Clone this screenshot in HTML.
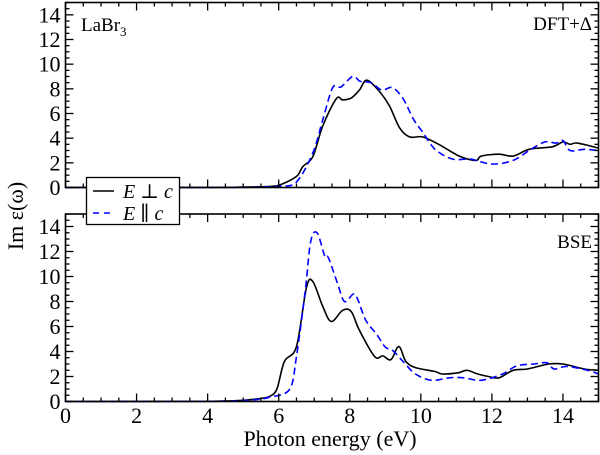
<!DOCTYPE html>
<html><head><meta charset="utf-8"><style>
html,body{margin:0;padding:0;background:#fff;}
body{position:relative;width:600px;height:455px;overflow:hidden;}
svg{display:block;}
svg text{font-family:"Liberation Serif","DejaVu Serif","Times New Roman",serif;}
</style></head><body>
<svg id="chart" width="600" height="455" viewBox="0 0 600 455"></svg>
<script>
const xTicks=[0,2,4,6,8,10,12,14];
const yTicks=[0,2,4,6,8,10,12,14];
const topPerpX=[0,4,5,5.5,5.8,6.03,6.5,6.68,6.96,7.24,7.62,7.8,8.04,8.27,8.48,8.83,9.12,9.4,9.68,10.05,10.5,11.08,11.55,11.7,12.2,12.6,13.05,13.7,14,14.2,14.4,15];
const topPerpY=[0,0.01,0.03,0.06,0.1,0.2,0.9,1.7,2.5,5.0,7.2,7.1,7.25,7.9,8.7,7.8,6.6,4.85,4.1,4.1,3.5,2.55,2.2,2.55,2.7,2.55,3.1,3.3,3.7,3.5,3.6,3.2];
const topParX=[0,4,5,5.5,6.03,6.5,6.96,7.24,7.52,7.75,8.08,8.3,8.6,8.9,9.2,9.5,9.8,10.05,10.4,10.9,11.4,12,12.6,13.1,13.5,13.8,14,14.2,14.6,15];
const topParY=[0,0.01,0.02,0.04,0.1,0.45,2.8,5.5,8.1,8.15,9.0,8.6,8.5,7.9,8.1,7.2,5.5,4.5,3.1,2.3,2.3,1.9,2.2,3.1,3.7,3.6,3.8,3.0,3.1,3.0];
const botPerpX=[0,4,5,5.5,5.74,5.95,6.16,6.5,6.78,6.96,7.24,7.48,7.8,8.04,8.27,8.7,8.93,9.16,9.38,9.58,9.86,10.4,10.6,11.05,11.3,11.6,11.9,12.2,12.6,13.0,13.6,14.0,14.6,15];
const botPerpY=[0,0.02,0.1,0.25,0.4,1.0,3.2,4.4,9.1,9.6,7.6,6.4,7.3,7.2,5.7,3.6,3.65,3.35,4.4,3.2,2.7,2.4,2.2,2.3,2.5,2.2,2.0,1.9,2.5,2.6,3.0,3.0,2.6,2.5];
const botParX=[0,4,5,5.5,5.74,6.3,6.5,6.75,6.9,7.08,7.3,7.4,7.65,7.85,8.1,8.22,8.45,8.75,9.0,9.2,9.5,9.85,10.3,10.8,11.2,11.7,12.3,12.7,13.2,13.55,13.75,14.1,14.7,15];
const botParY=[0,0.02,0.08,0.2,0.35,0.95,3.6,8.95,12.8,13.5,11.6,11.5,9.5,8.0,8.6,8.2,6.5,5.4,4.35,4.1,3.2,2.2,1.7,1.9,1.9,1.7,2.2,2.85,3.0,3.1,2.6,2.8,2.5,2.2];

const svg=document.getElementById('chart');
const NS='http://www.w3.org/2000/svg';
function mk(tag,attrs,parent){const e=document.createElementNS(NS,tag);for(const k in attrs)e.setAttribute(k,attrs[k]);(parent||svg).appendChild(e);return e;}
const X0=65.5,X1=598.5;
const xs=v=>X0+(v/15)*(X1-X0);
function smooth(pts){
 let d='M'+pts[0][0].toFixed(1)+','+pts[0][1].toFixed(1);
 for(let i=0;i<pts.length-1;i++){
  const p0=pts[Math.max(0,i-1)],p1=pts[i],p2=pts[i+1],p3=pts[Math.min(pts.length-1,i+2)];
  const c1x=p1[0]+(p2[0]-p0[0])/6,c1y=p1[1]+(p2[1]-p0[1])/6;
  const c2x=p2[0]-(p3[0]-p1[0])/6,c2y=p2[1]-(p3[1]-p1[1])/6;
  d+=' C'+c1x.toFixed(1)+','+c1y.toFixed(1)+' '+c2x.toFixed(1)+','+c2y.toFixed(1)+' '+p2[0].toFixed(1)+','+p2[1].toFixed(1);
 }
 return d;
}
const panels=[
 {name:'top',y0:187.5,y1:2.5,label:'DFT+Δ',series:[[topPerpX,topPerpY,'perp'],[topParX,topParY,'par']]},
 {name:'bottom',y0:401.5,y1:214,label:'BSE',series:[[botPerpX,botPerpY,'perp'],[botParX,botParY,'par']]}
];
panels.forEach(p=>{
 const ys=v=>p.y0-(v/15)*(p.y0-p.y1);
 const g=mk('g',{});
 
 
 p.series.forEach(s=>{
  const pts=s[0].map((x,i)=>[xs(x),ys(s[1][i])]);
  const path=mk('path',{d:smooth(pts),fill:'none',stroke:s[2]==='perp'?'#000':'#0000ff','stroke-width':1.6,'stroke-dasharray':s[2]==='perp'?'none':'7,4','stroke-linejoin':'round'},g);
  
  
 });
 const fr=mk('rect',{x:X0,y:p.y1,width:X1-X0,height:p.y0-p.y1,fill:'none',stroke:'#000','stroke-width':1.6},g);
 
 
 for(let v=0;v<=15.001;v+=0.5){
  const maj=Math.abs(v/2-Math.round(v/2))<1e-6;const L=maj?8:4;const x=xs(v);
  mk('line',{x1:x,x2:x,y1:p.y0,y2:p.y0-L,stroke:'#000','stroke-width':1.3},g);
  mk('line',{x1:x,x2:x,y1:p.y1,y2:p.y1+L,stroke:'#000','stroke-width':1.3},g);
 }
 for(let v=0;v<=15.001;v+=0.5){
  const maj=Math.abs(v/2-Math.round(v/2))<1e-6;const L=maj?8:4;const y=ys(v);
  mk('line',{x1:X0,x2:X0+L,y1:y,y2:y,stroke:'#000','stroke-width':1.3},g);
  mk('line',{x1:X1,x2:X1-L,y1:y,y2:y,stroke:'#000','stroke-width':1.3},g);
 }
 yTicks.forEach(v=>{
  const t=mk('text',{x:X0-5,y:ys(v)+7.5,'text-anchor':'end','font-size':22},g);
  t.textContent=v;
  
  
 });
 const lb=mk('text',{x:592,y:p.name==='top'?30:248,'text-anchor':'end','font-size':19},g);
 lb.textContent=p.label;
 
 
});
xTicks.forEach(v=>{
 const t=mk('text',{x:xs(v),y:423,'text-anchor':'middle','font-size':22});
 t.textContent=v;
 
 
});
</script>
<svg style="position:absolute;left:0;top:0" width="600" height="455">
 <text x="81" y="31" font-size="19">LaBr<tspan font-size="13" dy="5">3</tspan></text>
 <text x="330" y="446" text-anchor="middle" font-size="22">Photon energy (eV)</text>
 <text transform="translate(23,216) rotate(-90)" text-anchor="middle" font-size="22">Im ε(ω)</text>
 <g>
  <rect x="86.5" y="177.5" width="93" height="47" fill="#fff" stroke="#000" stroke-width="1.3"/>
  <line x1="93" x2="114" y1="191" y2="191" stroke="#000" stroke-width="1.6"/>
  <text x="123" y="198" font-size="20"><tspan font-style="italic">E</tspan> ⊥ <tspan font-style="italic">c</tspan></text>
  <line x1="93" x2="114" y1="213" y2="213" stroke="#0000ff" stroke-width="1.6" stroke-dasharray="6,5"/>
  <text x="123" y="220" font-size="20"><tspan font-style="italic">E</tspan> ∥ <tspan font-style="italic">c</tspan></text>
 </g>
</svg>
</body></html>
